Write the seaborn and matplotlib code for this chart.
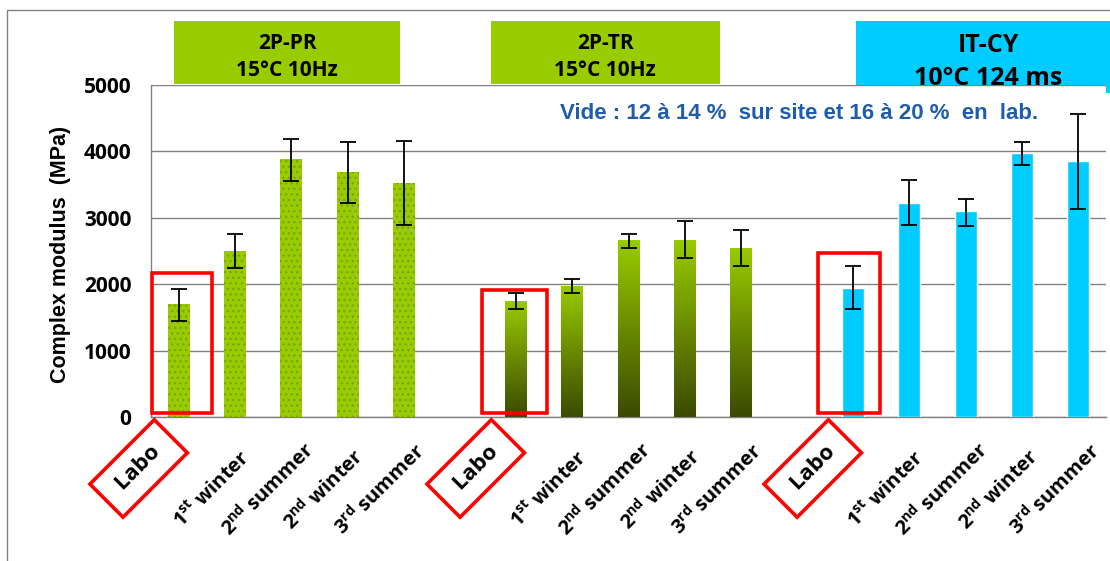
import numpy as np
import pandas as pd
import seaborn as sns
import matplotlib.pyplot as plt
import matplotlib.transforms as mtransforms
from matplotlib.patches import Rectangle
from matplotlib.colors import LinearSegmentedColormap

# DATA
tests = ["2P-PR", "2P-TR", "IT-CY"]
seasons = ["Labo", "1st winter", "2nd summer", "2nd winter", "3rd summer"]
season_labels = ["Labo",
                 "1$^{\\mathbf{st}}$ winter",
                 "2$^{\\mathbf{nd}}$ summer",
                 "2$^{\\mathbf{nd}}$ winter",
                 "3$^{\\mathbf{rd}}$ summer"]

pr_mean = [1700, 2500, 3880, 3690, 3530]
pr_low = [1450, 2240, 3550, 3230, 2890]
pr_high = [1930, 2760, 4180, 4140, 4160]

tr_mean = [1750, 1980, 2660, 2670, 2550]
tr_low = [1630, 1870, 2550, 2400, 2270]
tr_high = [1870, 2080, 2760, 2950, 2810]

cy_mean = [1950, 3220, 3100, 3970, 3850]
cy_low = [1630, 2890, 2870, 3790, 3140]
cy_high = [2280, 3570, 3280, 4140, 4570]

headers = ["2P-PR\n15°C 10Hz", "2P-TR\n15°C 10Hz", "IT-CY\n10°C 124 ms"]
note = "Vide : 12 à 14 %  sur site et 16 à 20 %  en  lab."

GREEN = "#99cc00"
CYAN = "#00ccff"
RED = "#ff0000"
GREY = "#808080"

# BUILD THE TABLE
rows = []
for test, m, lo, hi in zip(tests, [pr_mean, tr_mean, cy_mean],
                           [pr_low, tr_low, cy_low], [pr_high, tr_high, cy_high]):
    for s, v, l, h in zip(seasons, m, lo, hi):
        rows.append({"test": test, "season": s, "key": test + "|" + s,
                     "value": v, "low": l, "high": h})
df = pd.DataFrame(rows)

keys = df["key"].tolist()
order = keys[0:5] + ["gap1"] + keys[5:10] + ["gap2"] + keys[10:15]
tick_labels = season_labels + [""] + season_labels + [""] + season_labels

# STYLE
sns.set_style("white")
plt.rcParams['font.family'] = ['Open Sans', 'DejaVu Sans']
plt.rcParams['mathtext.fontset'] = 'custom'
plt.rcParams['mathtext.rm'] = 'Open Sans'
plt.rcParams['mathtext.bf'] = 'Open Sans:bold'
plt.rcParams['hatch.linewidth'] = 1.0
plt.rcParams['text.color'] = 'black'
plt.rcParams['axes.labelcolor'] = 'black'

W, H = 1110, 561
fig = plt.figure(figsize=(W / 100, H / 100), dpi=100)
ax = fig.add_axes([151 / W, 1 - 417 / H, (1106 - 151) / W, (417 - 85) / H])

# BARS
sns.barplot(data=df, x="key", y="value", hue="test", order=order,
            palette={"2P-PR": GREEN, "2P-TR": GREEN, "IT-CY": CYAN},
            width=0.39, saturation=1, errorbar=None, dodge=False,
            legend=False, ax=ax, zorder=3)

# dotted texture for 2P-PR, vertical gradient for 2P-TR
cmap = LinearSegmentedColormap.from_list("olive", ["#3b4a00", "#6a8a00", GREEN])
grad = np.linspace(0, 1, 256).reshape(-1, 1)
for p in list(ax.patches):
    slot = int(round(p.get_x() + p.get_width() / 2))
    if slot <= 4:
        p.set_hatch("...")
        p.set_edgecolor("#7aa600")
        p.set_linewidth(0)
    elif 6 <= slot <= 10:
        x0, y0, w, h = p.get_x(), p.get_y(), p.get_width(), p.get_height()
        im = ax.imshow(grad, extent=[x0, x0 + w, y0, y0 + h], origin="lower",
                       cmap=cmap, aspect="auto", zorder=3)
        im.set_clip_path(p)
        p.set_facecolor("none")
        p.set_linewidth(0)
ax.set_xlim(-0.5, len(order) - 0.5)
ax.set_ylim(0, 5000)
ax.set_aspect("auto")

# ERROR BARS
xpos = [order.index(k) for k in df["key"]]
ax.errorbar(xpos, df["value"],
            yerr=[df["value"] - df["low"], df["high"] - df["value"]],
            fmt="none", ecolor="black", elinewidth=1.3, capsize=5.5,
            capthick=1.3, zorder=6)

# AXES
ax.yaxis.grid(True, color=GREY, lw=1)
ax.set_axisbelow(True)
for s in ["top", "right"]:
    ax.spines[s].set_visible(False)
for s in ["left", "bottom"]:
    ax.spines[s].set_color(GREY)
    ax.spines[s].set_linewidth(1)

ax.set_yticks(range(0, 5001, 1000))
ax.tick_params(axis="y", length=7, color=GREY, width=1, labelsize=15, pad=7,
               labelcolor="black")
for lbl in ax.get_yticklabels():
    lbl.set_fontweight("bold")

ax.set_xticks(range(len(order)))
ax.set_xticks(np.arange(-0.5, len(order), 1), minor=True)
ax.set_xticklabels(["" if t == "Labo" else t for t in tick_labels],
                   rotation=45, ha="center", va="center", rotation_mode="anchor",
                   fontsize=14.5, fontweight="bold")
ax.tick_params(axis="x", which="major", length=0, pad=0, labelcolor="black")
ax.tick_params(axis="x", which="minor", length=7, color=GREY, width=1)
shift = mtransforms.ScaledTranslation(-0.23, -0.73, fig.dpi_scale_trans)
for lbl in ax.get_xticklabels():
    lbl.set_transform(lbl.get_transform() + shift)

ax.set_xlabel("")
ax.set_ylabel("Complex modulus  (MPa)", fontsize=15.5, fontweight="bold",
              family=["Liberation Sans", "DejaVu Sans"])
ax.yaxis.set_label_coords(-0.084, 0.49)

# "Labo" labels with red frames
for i, t in enumerate(tick_labels):
    if t == "Labo":
        ax.text(i - 0.72, -0.155, " Labo ", transform=ax.get_xaxis_transform(),
                rotation=45, ha="center", va="center", rotation_mode="anchor",
                fontsize=16, fontweight="bold", clip_on=False,
                bbox=dict(boxstyle="square,pad=0.58", fc="white", ec=RED, lw=2.6))

# red frames around the Labo bars
for x0, x1, top in [(-0.48, 0.585, 2170), (5.39, 6.55, 1910), (11.37, 12.47, 2470)]:
    ax.add_patch(Rectangle((x0, 60), x1 - x0, top - 60, fill=False, ec=RED,
                           lw=2.6, zorder=7, clip_on=False))

# HEADER BOXES  (x0, x1, y0, y1, colour, fontsize, text x, text y) in pixels
header_boxes = [(174, 400, 21, 84, GREEN, 15, 287, 57),
                (491, 720, 21, 84, GREEN, 15, 605, 57),
                (856, 1115, 21, 93, CYAN, 18, 988, 62)]
for (x0, x1, y0, y1, c, fs, xc, yc), txt in zip(header_boxes, headers):
    fig.add_artist(Rectangle((x0 / W, 1 - y1 / H), (x1 - x0) / W, (y1 - y0) / H,
                             transform=fig.transFigure, fc=c, ec="none", zorder=0))
    fig.text(xc / W, 1 - yc / H, txt, ha="center", va="center",
             fontsize=fs, fontweight="bold", linespacing=1.42)

ax.text(0.428, 0.913, note, transform=ax.transAxes, ha="left", va="center",
        fontsize=16, fontweight="bold", color="#1f5caa",
        family=["Liberation Sans", "DejaVu Sans"])

# outer frame
fig.add_artist(Rectangle((7 / W, -0.1), 1.2, 1.1 - 10 / H, transform=fig.transFigure,
                         fill=False, ec=GREY, lw=1))

fig.savefig("out.png", dpi=100)
